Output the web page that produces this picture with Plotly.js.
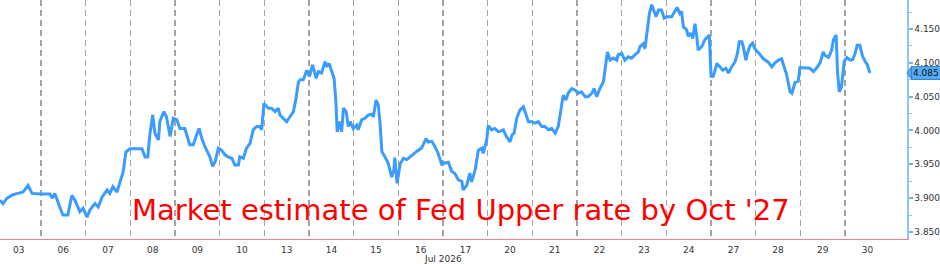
<!DOCTYPE html>
<html>
<head>
<meta charset="utf-8">
<script src="https://cdn.plot.ly/plotly-3.0.1.min.js"></script>
<style>html,body{margin:0;padding:0;background:#fff;}#chart{width:940px;height:264px;}</style>
</head>
<body>
<div id="chart"></div>
<script>
// Trading days of July 2026
const days = ['03','06','07','08','09','10','13','14','15','16','17','20','21','22','23','24','27','28','29','30'];
const monthLabel = 'Jul 2026';

// Intraday position (trading-day index, fractional) and market-implied Fed upper rate
const session = [0.08,0.15,0.24,0.37,0.48,0.60,0.71,0.80,1.00,1.20,1.25,1.31,1.42,1.49,1.60,1.69,1.76,1.87,1.94,2.03,
2.10,2.21,2.28,2.37,2.48,2.54,2.61,2.70,2.77,2.84,2.90,2.99,3.15,3.26,3.33,3.39,3.44,3.50,3.55,3.63,
3.66,3.75,3.81,3.89,3.96,4.04,4.11,4.22,4.33,4.41,4.48,4.54,4.60,4.67,4.78,4.84,4.90,4.97,5.04,5.12,
5.19,5.27,5.34,5.42,5.45,5.53,5.60,5.68,5.75,5.83,5.90,5.94,5.99,6.09,6.16,6.24,6.31,6.35,6.42,6.50,
6.57,6.65,6.71,6.76,6.80,6.87,6.95,7.01,7.08,7.16,7.21,7.28,7.36,7.39,7.45,7.51,7.56,7.60,7.63,7.69,
7.73,7.77,7.83,7.88,7.92,7.99,8.07,8.10,8.18,8.25,8.33,8.40,8.44,8.50,8.55,8.59,8.63,8.70,8.77,8.85,
8.90,8.92,8.97,9.04,9.11,9.19,9.26,9.33,9.41,9.52,9.60,9.62,9.67,9.75,9.82,9.89,9.97,10.04,10.12,10.19,
10.27,10.34,10.42,10.45,10.53,10.60,10.64,10.72,10.79,10.87,10.90,10.98,11.01,11.09,11.16,11.24,11.35,11.42,11.50,11.54,
11.59,11.65,11.72,11.80,11.86,11.91,11.99,12.06,12.13,12.21,12.28,12.36,12.43,12.51,12.58,12.63,12.69,12.75,12.80,12.88,
12.95,13.03,13.10,13.18,13.25,13.33,13.38,13.44,13.51,13.59,13.62,13.68,13.74,13.81,13.89,13.92,14.00,14.07,14.15,14.22,
14.30,14.37,14.41,14.48,14.52,14.56,14.62,14.67,14.72,14.77,14.82,14.89,14.95,15.01,15.12,15.19,15.24,15.30,15.34,15.38,
15.45,15.49,15.54,15.59,15.64,15.68,15.71,15.79,15.86,15.96,16.00,16.05,16.09,16.13,16.20,16.26,16.33,16.39,16.46,16.54,
16.59,16.63,16.69,16.72,16.78,16.81,16.87,16.93,16.98,17.06,17.10,17.17,17.28,17.36,17.43,17.51,17.58,17.62,17.69,17.77,
17.81,17.88,17.95,17.99,18.10,18.21,18.29,18.37,18.44,18.48,18.51,18.55,18.63,18.70,18.74,18.80,18.83,18.87,18.92,18.98,
19.04,19.11,19.17,19.22,19.27,19.33,19.39,19.45,19.50,19.54,19.56];
const rate = [3.897,3.892,3.900,3.905,3.907,3.909,3.919,3.907,3.906,3.906,3.900,3.907,3.887,3.875,3.875,3.904,3.897,3.880,3.885,3.872,
3.883,3.892,3.887,3.902,3.912,3.907,3.917,3.909,3.924,3.939,3.968,3.973,3.973,3.973,3.961,3.961,3.996,4.023,3.996,3.986,
4.013,4.028,4.020,3.991,4.018,4.016,4.003,4.003,3.979,3.979,3.993,4.003,3.988,3.976,3.961,3.947,3.954,3.974,3.971,3.964,
3.961,3.959,3.949,3.949,3.961,3.959,3.974,3.981,4.001,4.006,4.006,4.001,4.040,4.033,4.033,4.028,4.033,4.023,4.018,4.013,
4.020,4.028,4.048,4.071,4.075,4.075,4.089,4.080,4.097,4.077,4.087,4.085,4.102,4.094,4.099,4.087,4.077,4.045,3.998,4.013,
3.998,4.033,4.028,4.006,4.013,4.003,4.008,4.001,4.016,4.018,4.023,4.024,4.020,4.045,4.038,4.011,3.969,3.961,3.952,3.931,
3.942,3.960,3.922,3.951,3.959,3.957,3.961,3.964,3.969,3.974,3.986,3.988,3.983,3.984,3.976,3.966,3.950,3.952,3.953,3.940,
3.936,3.927,3.925,3.912,3.919,3.937,3.924,3.942,3.971,3.974,3.966,3.987,4.007,4.001,4.003,3.998,4.001,3.991,3.983,3.993,
3.996,4.018,4.030,4.035,4.023,4.013,4.013,4.011,4.013,4.006,4.006,4.001,4.003,3.996,4.006,4.028,4.052,4.045,4.055,4.062,
4.060,4.055,4.057,4.050,4.050,4.055,4.062,4.050,4.062,4.072,4.086,4.116,4.104,4.107,4.104,4.112,4.114,4.104,4.109,4.107,
4.112,4.116,4.124,4.128,4.121,4.144,4.173,4.186,4.178,4.168,4.178,4.178,4.166,4.168,4.168,4.176,4.182,4.173,4.176,4.153,
4.149,4.139,4.144,4.136,4.158,4.139,4.119,4.124,4.134,4.141,4.080,4.080,4.089,4.099,4.094,4.089,4.092,4.085,4.094,4.102,
4.114,4.131,4.131,4.124,4.104,4.114,4.125,4.129,4.121,4.116,4.112,4.106,4.101,4.094,4.100,4.104,4.106,4.097,4.083,4.057,
4.055,4.071,4.073,4.093,4.093,4.092,4.087,4.093,4.100,4.109,4.116,4.111,4.108,4.119,4.134,4.141,4.087,4.057,4.065,4.102,
4.108,4.104,4.105,4.113,4.126,4.126,4.110,4.102,4.097,4.088,4.085];
const yTicks = [3.85,3.90,3.95,4.00,4.05,4.10,4.15];
const chartNote = "Market estimate of Fed Upper rate by Oct '27";

const dayCenters = days.map((d, i) => i + 0.5);
const dayBounds = days.slice(1).map((d, i) => i + 1);
const lastRate = rate[rate.length - 1];
const lineBlue = '#3a9cff';
const font = 'DejaVu Sans, Verdana, sans-serif';

const trace = {
  x: session, y: rate, type: 'scatter', mode: 'lines',
  line: {color: lineBlue, width: 3}, hoverinfo: 'skip', showlegend: false
};

const layout = {
  width: 940, height: 264,
  margin: {l: 0, r: 33, t: 0, b: 25, pad: 0},
  paper_bgcolor: '#ffffff', plot_bgcolor: '#ffffff',
  showlegend: false,
  xaxis: {
    range: [0.082, 20.386], fixedrange: true,
    tickmode: 'array', tickvals: dayCenters, ticktext: days,
    ticks: '', showgrid: false, zeroline: false,
    showline: true, linecolor: '#f0808a', linewidth: 1,
    tickfont: {family: font, size: 9, color: '#333333'},
    ticklabelstandoff: 2,
    minor: {tickmode: 'array', tickvals: dayBounds, showgrid: true,
            gridcolor: '#a3a3a3', gridwidth: 1.3, griddash: '6px,4px', ticks: ''}
  },
  yaxis: {
    side: 'right', range: [3.8396, 4.1929], fixedrange: true,
    tickmode: 'array', tickvals: yTicks, tickformat: '.3f',
    ticks: 'outside', ticklen: 4, tickwidth: 2, tickcolor: '#6fb5f5',
    showline: true, linecolor: '#8cc6f7', linewidth: 1.5,
    showgrid: false, zeroline: false,
    tickfont: {family: font, size: 9, color: '#333333'},
    ticklabelstandoff: 0,
    minor: {tickmode: 'linear', tick0: 3.825, dtick: 0.05, ticks: 'outside', ticklen: 3, tickwidth: 1, tickcolor: '#8cc6f7', showgrid: false}
  },
  annotations: [
    {text: chartNote, xref: 'paper', yref: 'paper', x: 130 / 907, y: 0.12,
     xanchor: 'left', yanchor: 'middle', showarrow: false,
     font: {family: font, size: 29, color: '#ff0000'}},
    {text: monthLabel, xref: 'x', yref: 'paper', x: 10, y: 0, yshift: -13,
     xanchor: 'center', yanchor: 'top', showarrow: false,
     font: {family: font, size: 9, color: '#333333'}},
    {text: lastRate.toFixed(3), xref: 'paper', yref: 'y', x: 1, y: lastRate, xshift: 4,
     xanchor: 'left', yanchor: 'middle', showarrow: false,
     bgcolor: '#55aaf5', bordercolor: '#2f86d6', borderwidth: 1, borderpad: 1,
     font: {family: font, size: 9, color: '#111111'}}
  ],
  shapes: [
    {type: 'path', xref: 'paper', yref: 'y', xsizemode: 'pixel', ysizemode: 'pixel',
     xanchor: 1, yanchor: lastRate, path: 'M 0 0 L 5 7 L 5 -7 Z',
     fillcolor: '#55aaf5', line: {color: '#2f86d6', width: 1}}
  ]
};

Plotly.newPlot('chart', [trace], layout, {staticPlot: true, displayModeBar: false});
</script>
</body>
</html>
